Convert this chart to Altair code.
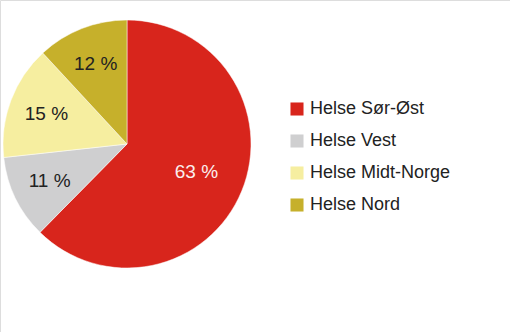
import altair as alt
import pandas as pd

# Share of total by regional health authority
regions = ["Helse Sør-Øst", "Helse Vest", "Helse Midt-Norge", "Helse Nord"]
shares = [63, 11, 15, 12]
colors = ["#d8251c", "#cfcfd0", "#f6eea0", "#c6b02b"]

df = pd.DataFrame({
    "region": regions,
    "share": shares,
    "rank": list(range(len(regions))),
})
df["label"] = df["share"].astype(str) + " %"

FONT = "Liberation Sans"
cx, cy, r = 127, 144, 124

pie = alt.Chart(df).mark_arc(outerRadius=r, stroke="white", strokeWidth=0.5).encode(
    theta=alt.Theta("share:Q", stack=True),
    order=alt.Order("rank:Q", sort="ascending"),
    x=alt.value(cx),
    y=alt.value(cy),
    color=alt.Color(
        "region:N",
        sort=regions,
        scale=alt.Scale(domain=regions, range=colors),
        legend=alt.Legend(
            title=None,
            orient="none",
            legendX=288,
            legendY=100,
            symbolType="square",
            symbolSize=170,
            symbolStrokeWidth=0,
            labelFont=FONT,
            labelFontSize=18,
            labelColor="#222222",
            labelOffset=4,
            rowPadding=14,
        ),
    ),
)

# labels sit at the middle angle of each slice; the big slice's label is
# closer to the centre and drawn in white
labels = (
    alt.Chart(df)
    .transform_window(cum="sum(share)", sort=[alt.SortField("rank", order="ascending")])
    .transform_calculate(
        mid="datum.cum - datum.share / 2",
        lab_r="datum.share > 50 ? 75 : 86",
    )
    .mark_text(font=FONT, fontSize=19, align="center", baseline="middle")
    .encode(
        theta=alt.Theta("mid:Q", stack=None),
        radius=alt.Radius("lab_r:Q", scale=None),
        x=alt.value(cx),
        y=alt.value(cy),
        text="label:N",
        color=alt.condition(alt.datum.share > 50, alt.value("#fbeeee"), alt.value("#222222")),
    )
)

chart = (
    alt.layer(pie, labels)
    .properties(width=510, height=332, autosize=alt.AutoSizeParams(type="none"), padding=0)
    .configure_view(stroke=None)
    .configure(background="white")
)

chart.save("out.html", embed_options={"renderer": "svg", "actions": False})
